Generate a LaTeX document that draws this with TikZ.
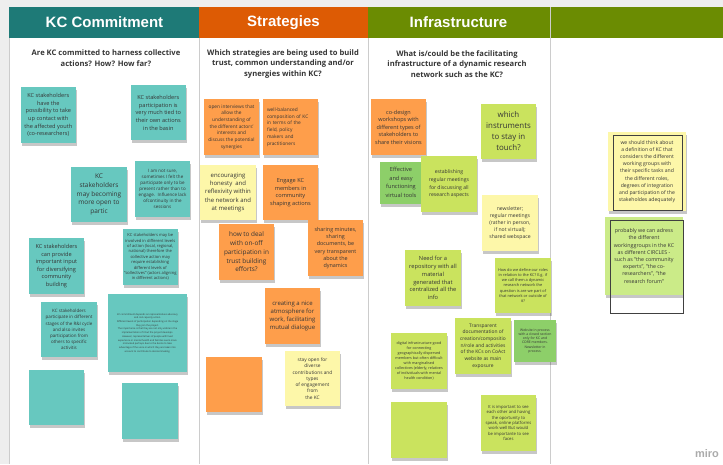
\documentclass[tikz,border=0pt]{standalone}
\usepackage{fontspec}
\setmainfont{Open Sans}
\newfontfamily\headfont{Liberation Sans}
\newcommand{\notefont}[2]{\fontsize{#1}{#2}\selectfont}

\definecolor{boardgray}{HTML}{EEEEEE}
\definecolor{linegray}{HTML}{CCCCCC}
\definecolor{kcteal}{HTML}{1E7A77}
\definecolor{storange}{HTML}{DD5B04}
\definecolor{infgreen}{HTML}{6B8C02}
\definecolor{inkgray}{HTML}{353535}
\definecolor{noteteal}{HTML}{67C8BF}
\definecolor{noteorange}{HTML}{FE9E4B}
\definecolor{noteyellow}{HTML}{FDF7A9}
\definecolor{notelime}{HTML}{CAE35E}
\definecolor{notegreen}{HTML}{8DCF69}
\definecolor{notepale}{HTML}{CBEB88}
\definecolor{mirogray}{HTML}{ABABAB}

\begin{document}
\begin{tikzpicture}[x=1pt,y=1pt,
  sticky/.style={minimum size=55.5pt,align=center,text=inkgray,
    preaction={fill=black,opacity=0.22,transform canvas={xshift=1pt,yshift=-3pt}}},
  tealnote/.style={sticky,fill=noteteal},
  orangenote/.style={sticky,fill=noteorange},
  yellownote/.style={sticky,fill=noteyellow},
  limenote/.style={sticky,fill=notelime},
  greennote/.style={sticky,fill=notegreen},
  palenote/.style={sticky,fill=notepale},
  headtext/.style={text=white,font=\headfont\fontsize{15}{18}\selectfont\bfseries},
  question/.style={align=center,text=inkgray,font=\notefont{7.6}{10.7}\bfseries},
  frameline/.style={draw=black!75,line width=0.9pt}]
\tikzstyle{every node}+=[inner sep=0pt]
\useasboundingbox (0,0) rectangle (723,-464);

% board and columns
\fill [boardgray] (0,0) rectangle (723,-464);
\fill [white] (9,-7) rectangle (723,-464);
\fill [kcteal] (9,-7) rectangle (199,-38);
\fill [storange] (199,-7) rectangle (368,-38);
\fill [infgreen] (368,-7) rectangle (723,-38);
\draw [linegray] (9.5,-38) -- (9.5,-464);
\draw [linegray] (199.5,-38) -- (199.5,-464);
\draw [linegray] (368.5,-38) -- (368.5,-464);
\draw [linegray] (550.5,-7) -- (550.5,-464);

% headers and questions
\node [headtext] (h1) at (104.5,-22.5) {KC Commitment};
\node [headtext] (h2) at (283.5,-22.5) {Strategies};
\node [headtext] (h3) at (458.5,-22.5) {Infrastructure};
\node [question] (q1) at (106,-58.5) {Are KC committed to harness collective\\actions? How? How far?};
\node [question] (q2) at (283,-64) {Which strategies are being used to build\\trust, common understanding and/or\\synergies within KC?};
\node [question] (q3) at (457,-64) {What is/could be the facilitating\\infrastructure of a dynamic research\\network such as the KC?};

% KC Commitment notes
\node [tealnote,font=\notefont{5.6}{7.6}] (kc1) at (48.3,-115) {KC stakeholders\\have the\\possibility to take\\up contact with\\the affected youth\\(co-researchers)};
\node [tealnote,font=\notefont{5.6}{7.6}] (kc2) at (158.3,-112.7) {KC stakeholders\\participation is\\very much tied to\\their own actions\\in the basin};
\node [tealnote,font=\notefont{6.5}{8.8}] (kc3) at (99,-194.5) {KC\\stakeholders\\may becoming\\more open to\\partic};
\node [tealnote,font=\notefont{4.5}{6}] (kc4) at (162.5,-189) {I am not sure,\\sometimes I felt the\\participate only to be\\present rather than to\\engage.~ Influence lack\\ofcontinuity in the\\sessions};
\node [tealnote,font=\notefont{5.6}{7.5}] (kc5) at (56.5,-266) {KC stakeholders\\can provide\\important input\\for diversifying\\community\\building};
\node [tealnote,font=\notefont{4.1}{5.4}] (kc6) at (150.3,-257) {KC stakeholders may be\\involved in different levels\\of action (local, regional,\\national) therefore the\\collective action may\\require establishing\\different levels of\\"collectives" (actors aligning\\in different actions)};
\node [tealnote,font=\notefont{4.5}{6.1}] (kc7) at (69,-329.5) {KC stakeholders\\participate in different\\stages of the R\&I cycle\\and also invites\\participation from\\others to specific\\activitis};
\node [tealnote,minimum width=79pt,minimum height=78pt,font=\notefont{2.4}{3.7}] (kc8) at (147.5,-333) {KC commitment depends on representatives advocacy\\and civil capacity action.\\Different levels of participation depending on the stage\\they join the project.\\The importance is that they are not only visible in the\\implementation of it but the project develops.\\However, representatives of people with lived\\experience in mental health and families seem more\\motivated perhaps due to the desire to take\\advantage of the voice in which they are taken into\\account to contribute to decisionmaking.};
\node [tealnote] (kc9) at (56.5,-397.5) {};
\node [tealnote] (kc10) at (150,-411) {};

% Strategies notes
\node [orangenote,font=\notefont{4.8}{6.7}] (st1) at (231.5,-127) {open interviews that\\allow the\\understanding of\\the different actors'\\interests and\\discuss the potential\\synergies};
\node [orangenote,align=left,text width=47pt,font=\notefont{4.8}{6.7}] (st2) at (290.5,-127) {well-balanced\\composition of KC\\in terms of the\\field, policy\\makers and\\practitioners};
\node [yellownote,font=\notefont{6}{8.3}] (st3) at (228,-192.5) {encouraging\\honesty~ and\\reflexivity within\\the network and\\at meetings};
\node [orangenote,font=\notefont{5.6}{7.7}] (st4) at (290.5,-192.5) {Engage KC\\members in\\community\\shaping actions};
\node [orangenote,font=\notefont{6.4}{8.7}] (st5) at (246.5,-252) {how to deal\\with on-off\\participation in\\trust building\\efforts?};
\node [orangenote,font=\notefont{5.4}{7.3}] (st6) at (335.5,-248) {sharing minutes,\\sharing\\documents, be\\very transparent\\about the\\dynamics};
\node [orangenote,font=\notefont{6}{8.1}] (st7) at (292.5,-316) {creating a nice\\atmosphere for\\work, facilitating\\mutual dialogue};
\node [orangenote] (st8) at (234,-384.5) {};
\node [yellownote,font=\notefont{4.8}{6.3}] (st9) at (312.5,-378.5) {stay open for\\diverse\\contributions and\\types\\of engagement\\from\\the KC};

% Infrastructure notes
\node [orangenote,font=\notefont{5.5}{7.5}] (in1) at (398.5,-127) {co-design\\workshops with\\different types of\\stakeholders to\\share their visions};
\node [limenote,font=\notefont{7.9}{11}] (in2) at (508.5,-131.5) {which\\instruments\\to stay in\\touch?};
\node [greennote,minimum size=42pt,font=\notefont{5.6}{8.5}] (in3) at (401,-182.5) {Effective\\and easy\\functioning\\virtual tools};
\node [limenote,font=\notefont{5.1}{7.7}] (in4) at (449,-184) {establishing\\regular meetings\\for discussing all\\research aspects};
\node [yellownote,font=\notefont{5.1}{7}] (in5) at (510,-223) {newsletter;\\regular meetings\\(rather in person,\\if not virtual);\\shared webspace};
\node [limenote,font=\notefont{5.7}{7.7}] (in6) at (433,-278) {Need for a\\repository with all\\material\\generated that\\centralized all the\\info};
\node [limenote,font=\notefont{3.9}{5.2}] (in7) at (523,-285.5) {How do we define our roles\\in relation to the KC? E.g. if\\we call them a dynamic\\research network the\\question is are we part of\\that network or outside of\\it?};
\node [limenote,font=\notefont{4.9}{6.7}] (in8) at (483,-346) {Transparent\\documentation of\\creation/compositio\\n/role and activities\\of the KCs on CoAct\\website as main\\exposure};
\node [greennote,minimum size=42pt,font=\notefont{3.4}{4.1}] (in9) at (535,-341) {Website in process\\with a closed section\\only for KC and\\CORE members.\\Newsletter in\\process.};
\node [limenote,font=\notefont{3.7}{5}] (in10) at (419,-361) {digital infrastructure good\\for connecting\\geographically dispersed\\members but often difficult\\with marginalised\\collectives (elderly, relatives\\of individuals with mental\\health condition)};
\node [limenote] (in11) at (419,-430) {};
\node [limenote,font=\notefont{4.2}{5.35}] (in12) at (508.5,-423) {It is important to see\\each other and having\\the oportunity to\\speak, online platforms\\work well But would\\be importante to see\\faces};

% fourth column
\node [yellownote,minimum width=78pt,minimum height=79pt,font=\notefont{5.1}{7.2}] (c4a) at (647,-171.5) {we should think about\\a definition of KC that\\considers the different\\working groups with\\their specific tasks and\\the different roles,\\degrees of integration\\and participation of the\\stakeholdes adequately};
\draw [frameline] (613,-135) rectangle (682,-210);
\node [palenote,minimum size=78pt,font=\notefont{5.3}{7.2}] (c4b) at (644,-256) {probably we can adress\\the different\\workinggroups in the KC\\as different CIRCLES -\\such as "the community\\experts", "the co-\\researchers", "the\\research forum"};
\draw [frameline] (610,-220) rectangle (683,-313);

\node [text=mirogray,font=\headfont\fontsize{11}{12}\selectfont\bfseries] (miro) at (707,-454) {miro};
\end{tikzpicture}
\end{document}
